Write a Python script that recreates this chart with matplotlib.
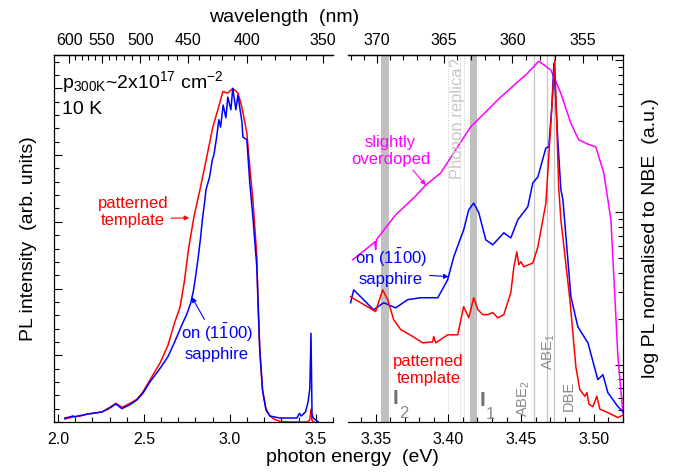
import matplotlib
matplotlib.use('Agg')
import matplotlib.pyplot as plt
from matplotlib.ticker import MultipleLocator, FixedLocator, NullFormatter

plt.rcParams['font.family'] = ['Liberation Sans', 'DejaVu Sans']
plt.rcParams['mathtext.fontset'] = 'custom'
plt.rcParams['mathtext.rm'] = 'Liberation Sans'
plt.rcParams['mathtext.it'] = 'Liberation Sans:italic'
plt.rcParams['mathtext.bf'] = 'Liberation Sans:bold'

# ---- linear panel (full spectrum) ----
lin_E_red = [2.04, 2.087, 2.13, 2.174, 2.256, 2.302, 2.337, 2.372, 2.419, 2.459, 2.494, 2.535,
             2.593, 2.64, 2.68, 2.71, 2.735, 2.76, 2.79, 2.826, 2.86, 2.901, 2.93, 2.959, 2.988,
             3.017, 3.047, 3.07, 3.099, 3.116, 3.134, 3.157, 3.163, 3.174, 3.19, 3.21, 3.233,
             3.26, 3.29, 3.35, 3.45, 3.465, 3.472, 3.478, 3.49]
lin_I_red = [0.045, 0.075, 0.09, 0.12, 0.15, 0.22, 0.28, 0.22, 0.28, 0.34, 0.45, 0.63,
             0.88, 1.15, 1.5, 1.72, 2.1, 2.6, 3.06, 3.48, 3.90, 4.42, 4.68, 4.95, 4.93,
             5.0, 4.93, 4.72, 4.33, 3.82, 3.33, 2.48, 1.83, 1.08, 0.48, 0.2, 0.09,
             0.04, 0.01, 0.0, 0.0, 0.03, 0.19, 0.02, 0.0]

lin_E_blue = [2.04, 2.06, 2.087, 2.10, 2.174, 2.256, 2.302, 2.337, 2.372, 2.419, 2.459, 2.494,
              2.535, 2.593, 2.64, 2.679, 2.72, 2.75, 2.772, 2.789, 2.80, 2.815, 2.83, 2.84,
              2.855, 2.861, 2.882, 2.898, 2.907, 2.922, 2.936, 2.946, 2.961, 2.977, 2.988, 3.006,
              3.017, 3.035, 3.047, 3.07, 3.076, 3.099, 3.116, 3.134, 3.157, 3.174, 3.19, 3.21,
              3.233, 3.29, 3.39, 3.405, 3.415, 3.44, 3.455, 3.465, 3.472, 3.478, 3.485, 3.50,
              3.515]
lin_I_blue = [0.06, 0.07, 0.09, 0.08, 0.12, 0.15, 0.21, 0.27, 0.2, 0.26, 0.33, 0.43,
              0.6, 0.8, 0.98, 1.2, 1.45, 1.62, 1.78, 1.98, 2.17, 2.45, 2.77, 3.03,
              3.33, 3.48, 3.67, 3.93, 4.0, 4.25, 4.53, 4.42, 4.75, 4.56, 4.87, 4.68,
              5.0, 4.68, 4.9, 4.5, 4.27, 4.23, 3.58, 3.07, 2.32, 1.08, 0.48, 0.18,
              0.09, 0.06, 0.06, 0.13, 0.09, 0.15, 0.3, 0.5, 1.33, 0.12, 0.06, 0.03,
              0.0]

# ---- log panel (near band edge, normalised to NBE) ----
log_E_mag = [3.3342, 3.345, 3.3495, 3.35, 3.3505, 3.3638, 3.3775, 3.3844, 3.3947, 3.4153,
             3.436, 3.4545, 3.4621, 3.4704, 3.4772, 3.4841, 3.4896, 3.4958, 3.5013, 3.5068,
             3.5117, 3.5165, 3.5199]
log_I_mag = [0.0488, 0.059, 0.0641, 0.0569, 0.066, 0.0964, 0.128, 0.151, 0.1815, 0.364,
             0.572, 0.822, 0.985, 0.86, 0.608, 0.386, 0.299, 0.281, 0.269, 0.1815,
             0.0893, 0.0113, 0.00484]

log_E_blue = [3.3328, 3.3349, 3.3397, 3.3486, 3.3555, 3.3638, 3.372, 3.381, 3.3927, 3.3995,
              3.4037, 3.4105, 3.414, 3.4174, 3.4209, 3.4257, 3.4305, 3.4381, 3.4429, 3.4477,
              3.4546, 3.458, 3.4615, 3.467, 3.469, 3.4711, 3.4725, 3.4752, 3.4773, 3.4787,
              3.4842, 3.489, 3.4959, 3.5027, 3.5062, 3.5096, 3.5165, 3.5206]
log_I_blue = [0.0255, 0.031, 0.0279, 0.0229, 0.0255, 0.0236, 0.0267, 0.0275, 0.0275, 0.0361,
              0.0511, 0.0768, 0.104, 0.115, 0.0993, 0.066, 0.0612, 0.0734, 0.068, 0.0893,
              0.109, 0.156, 0.171, 0.265, 0.269, 0.492, 0.95, 0.299, 0.141, 0.121,
              0.0279, 0.0177, 0.0139, 0.00797, 0.00859, 0.00655, 0.0053, 0.00484]

log_E_red = [3.3328, 3.3397, 3.35, 3.3548, 3.3583, 3.3624, 3.3672, 3.3755, 3.3823, 3.3892,
             3.3899, 3.3913, 3.3995, 3.4064, 3.4105, 3.414, 3.4174, 3.4202, 3.4236, 3.4271,
             3.4305, 3.4339, 3.4381, 3.4429, 3.445, 3.447, 3.4484, 3.4498, 3.4518, 3.458,
             3.4615, 3.4649, 3.467, 3.4731, 3.4758, 3.4773, 3.4835, 3.4876, 3.4903, 3.4938,
             3.4952, 3.4966, 3.4993, 3.502, 3.5041, 3.5096, 3.5165, 3.5206]
log_I_red = [0.0279, 0.0255, 0.0223, 0.031, 0.0267, 0.0197, 0.017, 0.0153, 0.0139, 0.0141,
             0.0153, 0.0139, 0.0157, 0.0157, 0.024, 0.0203, 0.0275, 0.023, 0.0213, 0.0213,
             0.022, 0.0203, 0.0213, 0.0297, 0.0439, 0.0551, 0.0453, 0.0474, 0.0439, 0.0465,
             0.0594, 0.0893, 0.115, 1.0, 0.147, 0.0893, 0.0267, 0.0097, 0.00686, 0.0062,
             0.00655, 0.0055, 0.0053, 0.0062, 0.0051, 0.00484, 0.00449, 0.0047]

# wavelength ticks on top
top_major_left = [600, 550, 500, 450, 400, 350]
top_major_right = [370, 365, 360, 355]

bands = [(3.3534, 3.359), (3.4147, 3.420)]
dotted_lines = [3.400, 3.408, 3.411]
solid_lines = [3.4587, 3.4677, 3.4724]

HC = 1239.84
RED, BLUE, MAG = '#ff0000', '#0000ff', '#ff00ff'
GREY = '#8a8a8a'


def nm(E):
    return HC / E


fig = plt.figure(figsize=(6.73, 4.72), dpi=100)
axL = fig.add_axes([54 / 673, 50 / 472, 279 / 673, 367 / 472])
axR = fig.add_axes([348 / 673, 50 / 472, 275 / 673, 367 / 472])

for ax in (axL, axR):
    for s in ax.spines.values():
        s.set_linewidth(0.9)
    ax.tick_params(which='both', direction='in', labelsize=11.5, width=0.8, pad=7)
    ax.tick_params(which='major', length=6)
    ax.tick_params(which='minor', length=3.5)

# left panel
axL.plot(lin_E_red, lin_I_red, color=RED, lw=1.1)
axL.plot(lin_E_blue, lin_I_blue, color=BLUE, lw=1.1)
axL.set_xlim(1.977, 3.6)
axL.set_ylim(0, 5.5)
axL.spines['right'].set_visible(False)
axL.xaxis.set_major_locator(MultipleLocator(0.5))
axL.xaxis.set_minor_locator(MultipleLocator(0.1))
axL.xaxis.set_major_formatter(plt.FormatStrFormatter('%.1f'))
axL.yaxis.set_major_locator(MultipleLocator(1))
axL.yaxis.set_minor_locator(MultipleLocator(0.2))
axL.yaxis.set_major_formatter(NullFormatter())
axL.tick_params(axis='y', right=False, labelleft=False)
axL.set_ylabel('PL intensity  (arb. units)', fontsize=14, labelpad=5)

secL = axL.secondary_xaxis('top', functions=(nm, nm))
secL.xaxis.set_major_locator(FixedLocator(top_major_left))
secL.xaxis.set_minor_locator(FixedLocator(list(range(350, 601, 10))))
secL.tick_params(which='both', direction='in', labelsize=11.5, width=0.8, pad=5)
secL.tick_params(which='major', length=6)
secL.tick_params(which='minor', length=3.5)
secL.spines['top'].set_linewidth(0.9)

axL.text(2.023, 5.1, r'p$_{\mathrm{300K}}$~2x10$^{17}$ cm$^{-2}$', fontsize=14, va='center', ha='left')
axL.text(2.023, 4.68, '10 K', fontsize=14, va='center', ha='left')
axL.annotate('patterned\ntemplate', xy=(2.764, 3.06), xytext=(2.436, 3.15), color=RED,
             fontsize=12, ha='center', va='center',
             arrowprops=dict(arrowstyle='-|>', color=RED, lw=0.8, mutation_scale=7,
                             shrinkA=0, shrinkB=0, relpos=(1.0, 0.3)))
axL.annotate('on (1$\\mathrm{\\bar{1}}$00)\nsapphire', xy=(2.779, 1.87), xytext=(2.924, 1.2),
             color=BLUE, fontsize=12, ha='center', va='center',
             arrowprops=dict(arrowstyle='-|>', color=BLUE, lw=0.8, mutation_scale=7,
                             shrinkA=0, shrinkB=0, relpos=(0.35, 1.0)))

# right panel
for a, b in bands:
    axR.axvspan(a, b, color='#c0c0c0', lw=0, zorder=0)
for x in dotted_lines:
    axR.axvline(x, color='#c8c8c8', lw=0.7, ls=':', zorder=0)
for x in solid_lines:
    axR.axvline(x, color='#c4c4c4', lw=0.9, zorder=0)

axR.plot(log_E_mag, log_I_mag, color=MAG, lw=1.1)
axR.plot(log_E_blue, log_I_blue, color=BLUE, lw=1.1)
axR.plot(log_E_red, log_I_red, color=RED, lw=1.1)
axR.set_yscale('log')
axR.set_xlim(3.331, 3.52)
axR.set_ylim(0.0042, 1.08)
axR.spines['left'].set_visible(False)
axR.xaxis.set_major_locator(MultipleLocator(0.05))
axR.xaxis.set_minor_locator(MultipleLocator(0.01))
axR.xaxis.set_major_formatter(plt.FormatStrFormatter('%.2f'))
axR.yaxis.tick_right()
axR.tick_params(axis='y', which='both', left=False, right=True, labelright=False, labelleft=False)
axR.yaxis.set_label_position('right')
axR.set_ylabel('log PL normalised to NBE  (a.u.)', fontsize=14, labelpad=14)

secR = axR.secondary_xaxis('top', functions=(nm, nm))
secR.xaxis.set_major_locator(FixedLocator(top_major_right))
secR.xaxis.set_minor_locator(FixedLocator(list(range(350, 373))))
secR.tick_params(which='both', direction='in', labelsize=11.5, width=0.8, pad=5)
secR.tick_params(which='major', length=6)
secR.tick_params(which='minor', length=3.5)
secR.spines['top'].set_linewidth(0.9)

axR.text(3.4064, 0.41, 'Phonon replica?', rotation=90, color='#c8c8c8', fontsize=12,
         ha='center', va='center')
axR.text(3.4518, 0.0060, 'ABE$_2$', rotation=90, color=GREY, fontsize=10.5, ha='center', va='center')
axR.text(3.469, 0.0122, 'ABE$_1$', rotation=90, color=GREY, fontsize=10.5, ha='center', va='center')
axR.text(3.4828, 0.0062, 'DBE', rotation=90, color=GREY, fontsize=10.5, ha='center', va='center')
axR.text(3.3638, 0.0060, 'I', color='#707070', fontsize=15, fontweight='bold', ha='center', va='center')
axR.text(3.3693, 0.0048, '2', color=GREY, fontsize=12, ha='center', va='center')
axR.text(3.4236, 0.0058, 'I', color='#707070', fontsize=15, fontweight='bold', ha='center', va='center')
axR.text(3.4291, 0.0047, '1', color=GREY, fontsize=12, ha='center', va='center')

axR.annotate('slightly\noverdoped', xy=(3.3844, 0.151), xytext=(3.3603, 0.253), color=MAG,
             fontsize=12, ha='center', va='center',
             arrowprops=dict(arrowstyle='-|>', color=MAG, lw=0.8, mutation_scale=7,
                             shrinkA=0, shrinkB=0, relpos=(0.75, 0.0)))
axR.annotate('on (1$\\mathrm{\\bar{1}}$00)\nsapphire', xy=(3.4002, 0.0378), xytext=(3.3603, 0.0439),
             color=BLUE, fontsize=12, ha='center', va='center',
             arrowprops=dict(arrowstyle='-|>', color=BLUE, lw=0.8, mutation_scale=7,
                             shrinkA=0, shrinkB=0, relpos=(0.9, 0.3)))
axR.text(3.3864, 0.0092, 'patterned\ntemplate', color=RED, fontsize=12, ha='center', va='center')

fig.text(284 / 673, 1 - 17 / 472, 'wavelength  (nm)', fontsize=14, ha='center', va='center')
fig.text(352 / 673, 1 - 458 / 472, 'photon energy  (eV)', fontsize=14, ha='center', va='center')

fig.savefig('out.png', dpi=100)
